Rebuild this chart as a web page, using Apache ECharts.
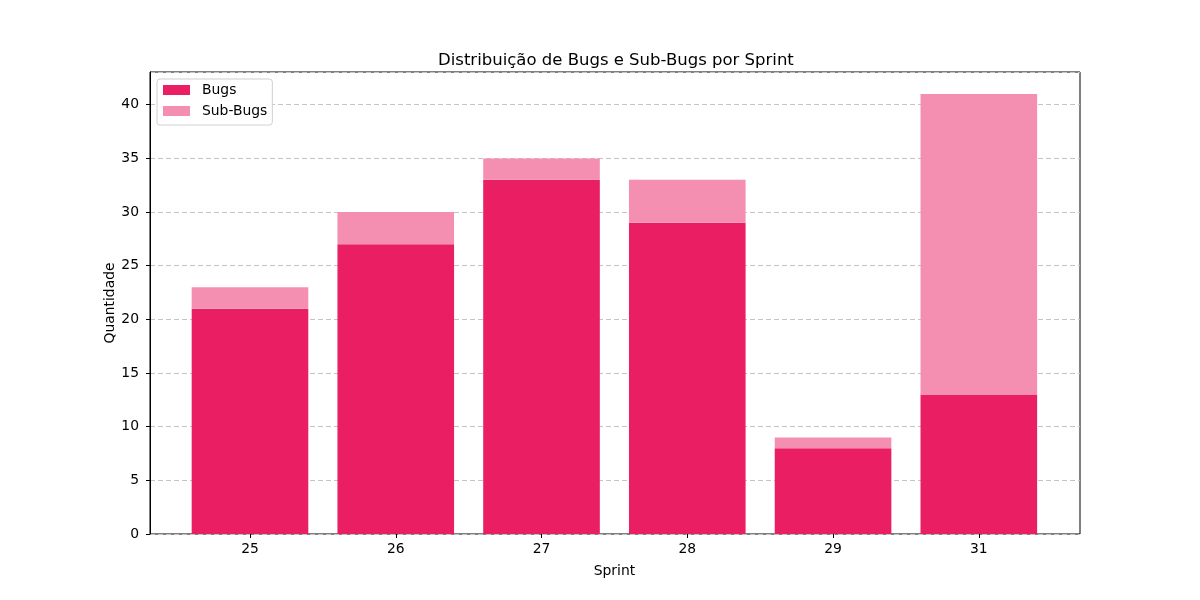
<!DOCTYPE html>
<html>
<head>
<meta charset="utf-8">
<script src="https://cdn.jsdelivr.net/npm/echarts@6/dist/echarts.min.js"></script>
<style>
  html, body { margin: 0; padding: 0; background: #fff; }
  #chart { width: 1200px; height: 600px; }
</style>
</head>
<body>
<div id="chart"></div>
<script>
// dados do gráfico
var sprints = ['25', '26', '27', '28', '29', '31'];
var bugs = [21, 27, 33, 29, 8, 13];
var subBugs = [2, 3, 2, 4, 1, 28];

var font = 'DejaVu Sans';
var yMax = 43.05;

var option = {
    animation: false,
    backgroundColor: '#ffffff',
    title: {
        text: 'Distribuição de Bugs e Sub-Bugs por Sprint',
        left: 433,
        top: 47,
        textStyle: { fontFamily: font, fontSize: 16.5, fontWeight: 'normal', color: '#000' }
    },
    legend: {
        orient: 'vertical',
        left: 157,
        top: 79,
        itemWidth: 27,
        itemHeight: 10,
        itemGap: 7,
        padding: [4, 5, 7, 6],
        backgroundColor: '#fff',
        borderColor: '#d0d0d0',
        borderWidth: 1,
        borderRadius: 3,
        icon: 'rect',
        textStyle: { fontFamily: font, fontSize: 13.9, color: '#000', padding: [0, 0, 0, 7] },
        data: ['Bugs', 'Sub-Bugs']
    },
    grid: [
        // moldura + eixo y
        { left: 150, right: 120, top: 72, bottom: 66, show: true, borderColor: '#000', borderWidth: 1 },
        // area das barras (com margem como no matplotlib)
        { left: 177.1, right: 148.3, top: 72, bottom: 66 }
    ],
    xAxis: [
        {
            gridIndex: 0, type: 'value', min: 0, max: 1,
            axisLine: { show: false }, axisTick: { show: false },
            axisLabel: { show: false }, splitLine: { show: false }
        },
        {
            gridIndex: 1,
            type: 'category',
            data: sprints,
            name: 'Sprint',
            nameLocation: 'middle',
            nameGap: 30,
            nameTextStyle: { fontFamily: font, fontSize: 13.9, color: '#000' },
            axisLine: { show: false },
            axisTick: { show: true, alignWithLabel: true, length: 4, lineStyle: { color: '#000' } },
            axisLabel: { fontFamily: font, fontSize: 13.9, color: '#000', margin: 8 },
            splitLine: { show: false }
        }
    ],
    yAxis: [
        {
            gridIndex: 0,
            type: 'value',
            min: 0,
            max: yMax,
            interval: 5,
            name: 'Quantidade',
            nameLocation: 'middle',
            nameGap: 33,
            nameMoveOverlap: false,
            nameTextStyle: { fontFamily: font, fontSize: 13.9, color: '#000' },
            axisLine: { show: true, onZero: false, lineStyle: { color: '#000' } },
            axisTick: { show: true, length: 4, lineStyle: { color: '#000' } },
            axisLabel: {
                fontFamily: font, fontSize: 13.9, color: '#000', margin: 11,
                showMaxLabel: false,
                formatter: function (v) { return v % 5 === 0 ? String(v) : ''; }
            },
            splitLine: { show: true, lineStyle: { color: '#c4c4c4', type: [5, 3], width: 1 } }
        },
        {
            gridIndex: 1, type: 'value', min: 0, max: yMax,
            axisLine: { show: false }, axisTick: { show: false },
            axisLabel: { show: false }, splitLine: { show: false }
        }
    ],
    series: [
        {
            name: 'Bugs',
            type: 'bar',
            stack: 'total',
            xAxisIndex: 1,
            yAxisIndex: 1,
            barCategoryGap: '20%',
            itemStyle: { color: '#E91E63' },
            data: bugs
        },
        {
            name: 'Sub-Bugs',
            type: 'bar',
            stack: 'total',
            xAxisIndex: 1,
            yAxisIndex: 1,
            barCategoryGap: '20%',
            itemStyle: { color: '#F48FB1' },
            data: subBugs
        }
    ]
};

var myechart = echarts.init(document.getElementById('chart'));
myechart.setOption(option);
</script>
</body>
</html>
